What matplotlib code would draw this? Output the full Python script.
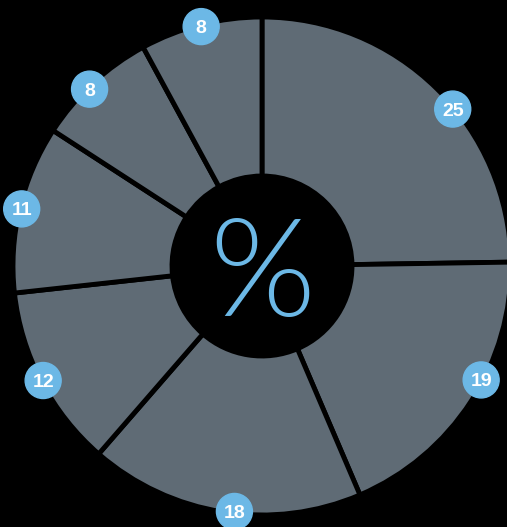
import matplotlib
matplotlib.use('Agg')
import matplotlib.pyplot as plt
from matplotlib.patches import Circle
import numpy as np

# values of the slices, clockwise from 12 o'clock
values = [25, 19, 18, 12, 11, 8, 8]
labels = ['25', '19', '18', '12', '11', '8', '8']

slice_color = '#5f6b75'
badge_color = '#6cb8e6'

fig = plt.figure(figsize=(5.07, 5.27), dpi=100, facecolor='black')
ax = fig.add_axes([0, 0, 1, 1])
ax.set_facecolor('black')

R = 249
r_in = 90
wedges, _ = ax.pie(values, startangle=90, counterclock=False, radius=R,
                   colors=[slice_color] * len(values),
                   wedgeprops=dict(width=R - r_in, edgecolor='black', linewidth=3.5))

# badge positions at the middle of each slice (small angle shifts, degrees)
label_shift = [-6, 5.5, 2.5, 0, 0, 1.5, 0]
for w, lab, sh in zip(wedges, labels, label_shift):
    ang = np.deg2rad((w.theta1 + w.theta2) / 2 + sh)
    x, y = 247 * np.cos(ang), 247 * np.sin(ang)
    ax.add_patch(Circle((x, y), 18, color=badge_color, zorder=5))
    ax.text(x, y, lab, ha='center', va='center_baseline', color='white',
            fontsize=14, fontweight='bold', family='Liberation Sans', zorder=6)

ax.text(0, -12, '%', ha='center', va='center', color=badge_color,
        fontsize=98, fontweight=300, family='Lato')

# 1 data unit = 1 pixel, center of the ring at (262, 266) px from top-left
# (pie() resets the limits, so set them afterwards)
ax.set_xlim(-262, 507 - 262)
ax.set_ylim(-(527 - 266), 266)
ax.set_aspect('equal')
ax.axis('off')

fig.savefig('out.png', dpi=100, facecolor='black')
